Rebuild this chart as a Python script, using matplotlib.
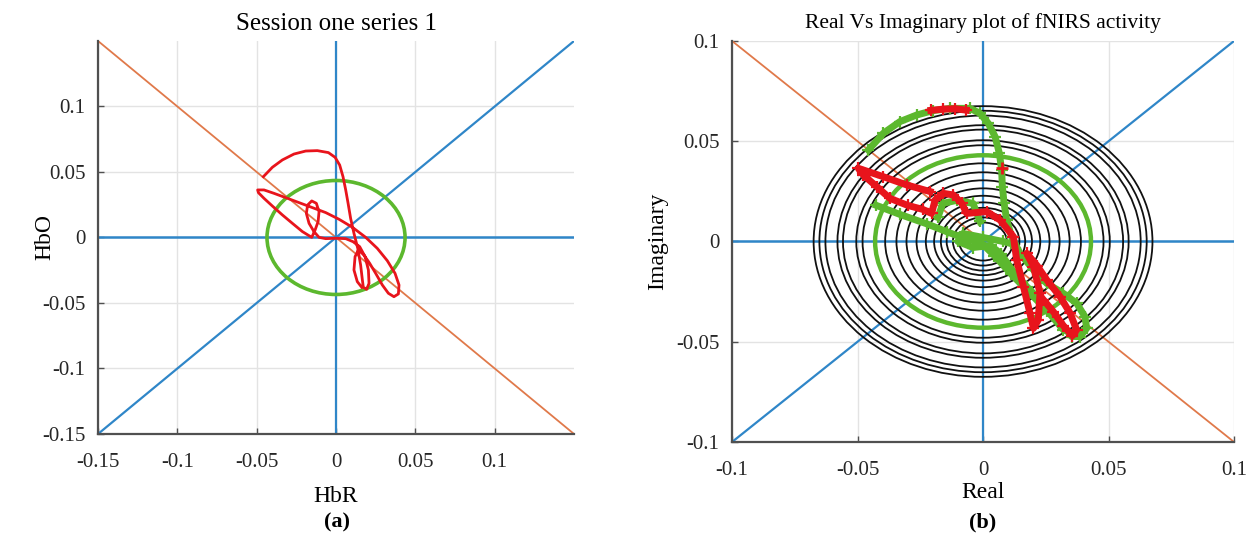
import matplotlib.pyplot as plt
from matplotlib.patches import Circle

# ---- panel (a): HbR vs HbO trajectory ----
hbr = [-0.0458, -0.0401, -0.0338, -0.0265, -0.0191, -0.0118, -0.0048, -0.0006, 0.0023, 0.0044,
       0.0061, 0.0076, 0.0092, 0.0113, 0.0137, 0.0155, 0.0166, 0.0172, 0.0193, 0.0208,
       0.0204, 0.0183, 0.0149, 0.0107, 0.0061, -0.0002, -0.0065, -0.0107, -0.0139, -0.0170,
       -0.0187, -0.0179, -0.0153, -0.0124, -0.0107, -0.0113, -0.0132, -0.0153, -0.0212, -0.0275,
       -0.0338, -0.0401, -0.0454, -0.0489, -0.0494, -0.0454, -0.0391, -0.0317, -0.0233, -0.0149,
       -0.0065, 0.0019, 0.0103, 0.0187, 0.0260, 0.0323, 0.0372, 0.0397, 0.0393, 0.0365,
       0.0330, 0.0292, 0.0250, 0.0212, 0.0176, 0.0141, 0.0120, 0.0113, 0.0134, 0.0162]
hbo = [0.0464, 0.0536, 0.0592, 0.0637, 0.0660, 0.0663, 0.0648, 0.0612, 0.0553, 0.0464,
       0.0363, 0.0261, 0.0146, 0.0032, -0.0083, -0.0210, -0.0324, -0.0380, -0.0396, -0.0350,
       -0.0248, -0.0146, -0.0070, -0.0032, -0.0009, -0.0006, -0.0009, 0.0001, 0.0045, 0.0108,
       0.0184, 0.0248, 0.0279, 0.0261, 0.0197, 0.0121, 0.0057, 0.0001, 0.0045, 0.0108,
       0.0172, 0.0240, 0.0299, 0.0342, 0.0363, 0.0363, 0.0337, 0.0304, 0.0266, 0.0228,
       0.0190, 0.0139, 0.0078, 0.0001, -0.0083, -0.0177, -0.0274, -0.0363, -0.0431, -0.0452,
       -0.0426, -0.0363, -0.0274, -0.0197, -0.0134, -0.0095, -0.0146, -0.0248, -0.0337, -0.0380]
ring_a = 0.0435

# ---- panel (b): real vs imaginary ----
red_top_re = [-0.0208, -0.0160, -0.0110, -0.0067]
red_top_im = [0.0654, 0.0660, 0.0662, 0.0655]
red_re = [-0.0211, -0.0304, -0.0397, -0.0497, -0.0477, -0.0424, -0.0371, -0.0300, -0.0240,
          -0.0205, -0.0191, -0.0158, -0.0118, -0.0085, -0.0065, 0.0015, 0.0068, 0.0121,
          0.0134, 0.0161, 0.0187, 0.0201, 0.0220, 0.0227, 0.0201, 0.0174, 0.0215, 0.0254,
          0.0307, 0.0347, 0.0373, 0.0356, 0.0320, 0.0280, 0.0240]
red_im = [0.0249, 0.0282, 0.0323, 0.0365, 0.0332, 0.0274, 0.0215, 0.0180, 0.0160,
          0.0140, 0.0207, 0.0240, 0.0232, 0.0191, 0.0140, 0.0149, 0.0107, 0.0024,
          -0.0092, -0.0225, -0.0358, -0.0433, -0.0391, -0.0258, -0.0125, -0.0059, -0.0120, -0.0192,
          -0.0275, -0.0358, -0.0441, -0.0470, -0.0420, -0.0350, -0.0290]
red_dot_re = [0.0074]
red_dot_im = [0.0365]
grn_re = [-0.0457, -0.0397, -0.0331, -0.0264, -0.0198, -0.0131, -0.0052, -0.0012, 0.0021, 0.0048,
          0.0065, 0.0074, 0.0077, 0.0084, 0.0094, 0.0114, 0.0147, 0.0201, 0.0254, 0.0320,
          0.0373, 0.0406, 0.0413, 0.0386, 0.0353, 0.0320, 0.0280, 0.0227, 0.0174, 0.0120,
          0.0070, 0.0030, -0.0040, -0.0100, -0.0080, 0.0000, 0.0080, 0.0110]
grn_im = [0.0456, 0.0540, 0.0598, 0.0631, 0.0653, 0.0664, 0.0664, 0.0639, 0.0589, 0.0523,
          0.0440, 0.0357, 0.0274, 0.0190, 0.0107, 0.0024, -0.0059, -0.0142, -0.0209, -0.0259,
          -0.0308, -0.0375, -0.0433, -0.0474, -0.0474, -0.0424, -0.0358, -0.0292, -0.0225, -0.0150,
          -0.0060, -0.0020, -0.0030, 0.0000, 0.0040, 0.0020, 0.0000, -0.0010]
grn2_re = [-0.0425, -0.0331, -0.0224, -0.0145, -0.0092, -0.0040, 0.0000, 0.0045, 0.0110,
           0.0185, 0.0255, 0.0320]
grn2_im = [0.0180, 0.0135, 0.0088, 0.0049, 0.0024, 0.0005, -0.0015, -0.0070, -0.0160,
           -0.0255, -0.0345, -0.0440]
grn3_re = [-0.0180, -0.0160, -0.0105, -0.0040, -0.0012]
grn3_im = [0.0120, 0.0190, 0.0205, 0.0190, 0.0100]
ring_b = 0.0430
circle_radii = [0.0675, 0.0652, 0.0628, 0.0580, 0.0558, 0.0505, 0.0480, 0.0390, 0.0345,
                0.0305, 0.0265, 0.0228, 0.0195, 0.0168, 0.0145, 0.0120, 0.0095]

BLUE = '#2f86c8'
ORANGE = '#e0794a'
RED = '#e8141c'
GREEN = '#5cb82e'
plt.rcParams['font.family'] = ['Liberation Serif', 'DejaVu Serif']

fig = plt.figure(figsize=(12.55, 5.45), dpi=100)
ax1 = fig.add_axes([0.0781, 0.2037, 0.3793, 0.7211])
ax2 = fig.add_axes([0.5833, 0.1890, 0.4000, 0.7358])


def style(ax, lim, ticks, labels):
    ax.set_xlim(-lim, lim)
    ax.set_ylim(-lim, lim)
    ax.set_xticks(ticks)
    ax.set_yticks(ticks)
    ax.set_xticklabels(labels)
    ax.set_yticklabels(labels)
    ax.grid(True, color='#e3e3e3', linewidth=1.0)
    ax.set_axisbelow(True)
    for s in ('top', 'right'):
        ax.spines[s].set_visible(False)
    for s in ('left', 'bottom'):
        ax.spines[s].set_color('#505050')
        ax.spines[s].set_linewidth(1.6)
    ax.tick_params(direction='in', length=4, width=1, color='#505050',
                   labelsize=15, labelcolor='#262626')
    ax.tick_params(axis='x', pad=14)
    ax.tick_params(axis='y', pad=9)
    # reference axes: zero lines and both diagonals
    ax.plot([-lim, lim], [lim, -lim], color=ORANGE, lw=1.3, zorder=2)
    ax.plot([-lim, lim], [-lim, lim], color=BLUE, lw=1.6, zorder=2)
    ax.plot([0, 0], [-lim, lim], color=BLUE, lw=1.6, zorder=2)
    ax.plot([-lim, lim], [0, 0], color=BLUE, lw=1.8, zorder=2)


style(ax1, 0.15, [-0.15, -0.1, -0.05, 0, 0.05, 0.1],
      ['-0.15', '-0.1', '-0.05', '0', '0.05', '0.1'])
ax1.add_patch(Circle((0, 0), ring_a, fill=False, edgecolor=GREEN, lw=2.6, zorder=3))
ax1.plot(hbr, hbo, color=RED, lw=2.0, zorder=4)
ax1.set_title('Session one series 1', fontsize=18, pad=8)
ax1.set_xlabel('HbR', fontsize=17)
ax1.set_ylabel('HbO', fontsize=17)
ax1.xaxis.set_label_coords(0.5, -0.160)
ax1.xaxis.label.set_va('center')
ax1.yaxis.set_label_coords(-0.111, 0.5)
ax1.yaxis.label.set_va('center')

style(ax2, 0.1, [-0.1, -0.05, 0, 0.05, 0.1], ['-0.1', '-0.05', '0', '0.05', '0.1'])
for r in circle_radii:
    ax2.add_patch(Circle((0, 0), r, fill=False, edgecolor='#111111', lw=1.3, zorder=3))
ax2.add_patch(Circle((0, 0), ring_b, fill=False, edgecolor=GREEN, lw=3.2, zorder=4))
mk = dict(lw=5, marker='+', ms=8, mew=1.6)
ax2.plot(grn_re, grn_im, color=GREEN, zorder=5, **mk)
ax2.plot(grn2_re, grn2_im, color=GREEN, zorder=5, **mk)
ax2.plot(grn3_re, grn3_im, color=GREEN, zorder=5, **mk)
ax2.plot(red_re, red_im, color=RED, zorder=6, **mk)
ax2.plot(red_top_re, red_top_im, color=RED, zorder=6, **mk)
ax2.plot(red_dot_re, red_dot_im, color=RED, ls='none', marker='+', ms=9, mew=2, zorder=6)
ax2.set_title('Real Vs Imaginary plot of fNIRS activity', fontsize=15.5, pad=9)
ax2.set_xlabel('Real', fontsize=17)
ax2.set_ylabel('Imaginary', fontsize=17)
ax2.xaxis.set_label_coords(0.5, -0.125)
ax2.xaxis.label.set_va('center')
ax2.yaxis.set_label_coords(-0.149, 0.5)
ax2.yaxis.label.set_va('center')

fig.text(0.2685, 0.042, '(a)', ha='center', va='center', fontsize=16, fontweight='bold')
fig.text(0.7833, 0.042, '(b)', ha='center', va='center', fontsize=16, fontweight='bold')

fig.savefig('out.png', dpi=100)
